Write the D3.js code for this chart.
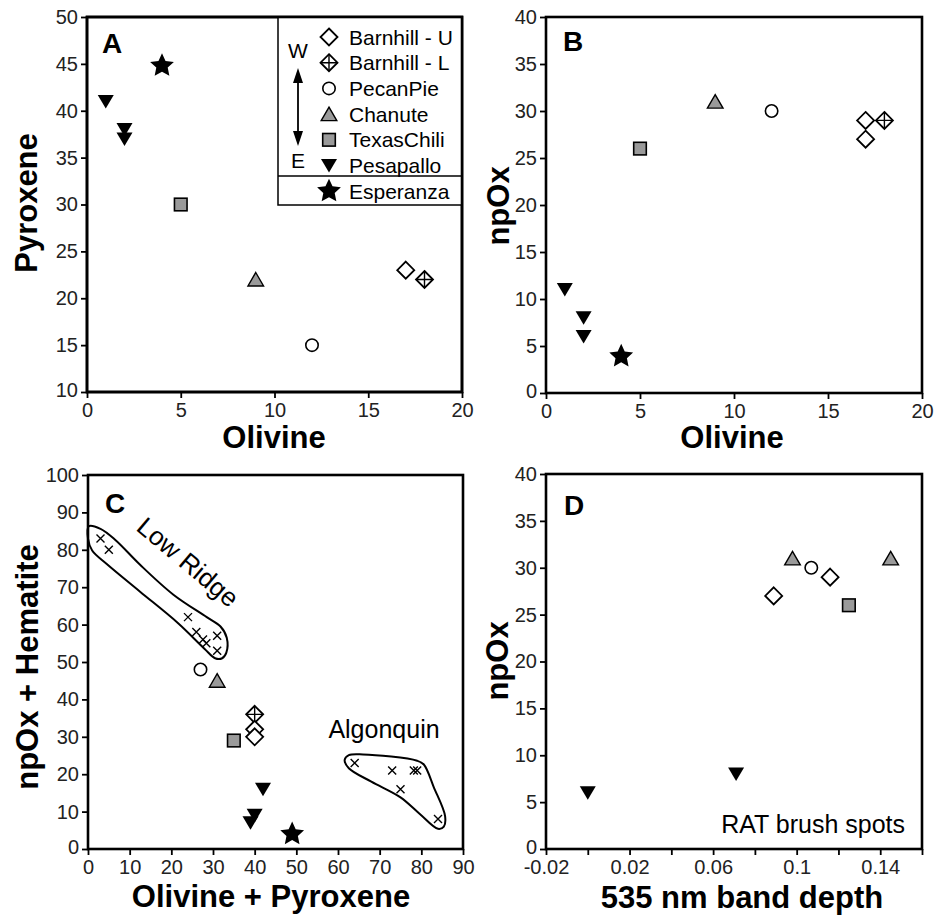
<!DOCTYPE html>
<html>
<head>
<meta charset="utf-8">
<script src="https://cdn.jsdelivr.net/npm/d3@7"></script>
<style>
  body { margin: 0; background: #fff; }
  svg text { font-family: "Liberation Sans", Arial, sans-serif; }
</style>
</head>
<body>
<script>
// site names (legend order)
var sites = ["Barnhill - U", "Barnhill - L", "PecanPie", "Chanute", "TexasChili", "Pesapallo", "Esperanza"];

// panel A : olivine vs pyroxene
var aSite = ["Barnhill - U", "Barnhill - L", "PecanPie", "Chanute", "TexasChili", "Pesapallo", "Pesapallo", "Pesapallo", "Esperanza"];
var aOlivine = [17, 18, 12, 9, 5, 1, 2, 2, 4];
var aPyroxene = [23, 22, 15, 22, 30, 41, 38, 37, 44.8];

// panel B : olivine vs npOx
var bSite = ["Barnhill - U", "Barnhill - U", "Barnhill - L", "PecanPie", "Chanute", "TexasChili", "Pesapallo", "Pesapallo", "Pesapallo", "Esperanza"];
var bOlivine = [17, 17, 18, 12, 9, 5, 1, 2, 2, 4];
var bNpOx = [29, 27, 29, 30, 31, 26, 11, 8, 6, 3.9];

// panel C : olivine+pyroxene vs npOx+hematite
var cSite = ["PecanPie", "Chanute", "Barnhill - L", "Barnhill - U", "Barnhill - U", "TexasChili", "Pesapallo", "Pesapallo", "Pesapallo", "Esperanza"];
var cOlPx = [27, 31, 40, 40, 40, 35, 42, 40, 39, 49];
var cNpHem = [48, 45, 36, 32, 30, 29, 16, 9, 7, 4];
// other rocks (x marks)
var lowRidgeX = [3, 5, 24, 26, 27.6, 28.4, 31, 31];
var lowRidgeY = [83, 80, 62, 58, 56, 55, 57, 53];
var algonquinX = [64, 73, 75, 78.2, 79, 84];
var algonquinY = [23, 21, 16, 21, 21, 8];
// hand-drawn group outlines (data units)
var lowRidgeHullX = [0.2, 3, 6.5, 12.5, 20.5, 28.5, 31.8, 33.3, 33.2, 32.2, 30.5, 28, 21.5, 12.5, 4.5, 1, 0];
var lowRidgeHullY = [86.3, 85.6, 82.7, 76, 68, 62, 59.5, 56.5, 52.5, 51, 51, 53.5, 60.5, 68.8, 76.2, 79.8, 83];
var algonquinHullX = [61.6, 62.6, 66, 79, 80.6, 83, 85.7, 85.4, 84, 79.5, 75, 68, 62.6];
var algonquinHullY = [23.8, 25.1, 25.3, 23.6, 22.6, 16.5, 8.8, 6, 5.4, 9.5, 13.8, 18, 21.6];

// panel D : 535 nm band depth vs npOx (RAT brush spots)
var dSite = ["Pesapallo", "Pesapallo", "Barnhill - U", "Chanute", "PecanPie", "Barnhill - U", "TexasChili", "Chanute"];
var dBand = [0, 0.071, 0.089, 0.098, 0.107, 0.116, 0.125, 0.145];
var dNpOx = [6, 8, 27, 31, 30, 29, 26, 31];

var aXTicks = [0, 5, 10, 15, 20], aYTicks = [10, 15, 20, 25, 30, 35, 40, 45, 50];
var bYTicks = [0, 5, 10, 15, 20, 25, 30, 35, 40];
var cXTicks = [0, 10, 20, 30, 40, 50, 60, 70, 80, 90], cYTicks = [0, 10, 20, 30, 40, 50, 60, 70, 80, 90, 100];
var dXTicks = [-0.02, 0, 0.02, 0.04, 0.06, 0.08, 0.1, 0.12, 0.14, 0.16];
var dXLabels = [-0.02, 0.02, 0.06, 0.1, 0.14];

var W = 934, H = 917;
var gray = "#9a9a9a";

var svg = d3.select("body").append("svg")
    .attr("width", W).attr("height", H);
svg.append("rect").attr("width", W).attr("height", H).attr("fill", "#fff");

function starPath(R, r) {
    var p = [];
    for (var i = 0; i < 10; i++) {
        var a = -Math.PI / 2 + i * Math.PI / 5;
        var rad = i % 2 ? r : R;
        p.push([rad * Math.cos(a), rad * Math.sin(a)]);
    }
    return "M" + p.join("L") + "Z";
}

// draw one marker of a site at pixel position
function marker(g, site, x, y) {
    var m = g.append("g").attr("transform", "translate(" + x + "," + y + ")");
    if (site == "Barnhill - U" || site == "Barnhill - L") {
        m.append("path").attr("d", "M0,-8.5L8.5,0L0,8.5L-8.5,0Z")
            .attr("fill", "#fff").attr("stroke", "#000").attr("stroke-width", 1.8);
        if (site == "Barnhill - L")
            m.append("path").attr("d", "M0,-8.5V8.5M-8.5,0H8.5")
                .attr("stroke", "#000").attr("stroke-width", 1.4);
    } else if (site == "PecanPie") {
        m.append("circle").attr("r", 6.2)
            .attr("fill", "#fff").attr("stroke", "#000").attr("stroke-width", 1.6);
    } else if (site == "Chanute") {
        m.append("path").attr("d", "M0,-7L7.8,6.5H-7.8Z")
            .attr("fill", gray).attr("stroke", "#000").attr("stroke-width", 1.4);
    } else if (site == "TexasChili") {
        m.append("rect").attr("x", -6.3).attr("y", -6.3).attr("width", 12.6).attr("height", 12.6)
            .attr("fill", gray).attr("stroke", "#000").attr("stroke-width", 1.6);
    } else if (site == "Pesapallo") {
        m.append("path").attr("d", "M-8,-6.5H8L0,7Z").attr("fill", "#000");
    } else if (site == "Esperanza") {
        m.append("path").attr("d", starPath(12.5, 6)).attr("fill", "#000");
    }
}

function cross(g, x, y) {
    g.append("path")
        .attr("d", "M" + (x - 4) + "," + (y - 4) + "L" + (x + 4) + "," + (y + 4) +
            "M" + (x - 4) + "," + (y + 4) + "L" + (x + 4) + "," + (y - 4))
        .attr("stroke", "#000").attr("stroke-width", 1.4);
}

// plot frame, axes and titles
function makePanel(p) {
    var x = d3.scaleLinear().domain(p.xDomain).range([p.left, p.right]);
    var y = d3.scaleLinear().domain(p.yDomain).range([p.bottom, p.top]);
    var g = svg.append("g");

    var xa = g.append("g").attr("transform", "translate(0," + p.bottom + ")")
        .call(d3.axisBottom(x).tickValues(p.xTicks).tickSize(6).tickPadding(5)
            .tickFormat(p.xFormat || d3.format("")));
    var ya = g.append("g").attr("transform", "translate(" + p.left + ",0)")
        .call(d3.axisLeft(y).tickValues(p.yTicks).tickSize(6).tickPadding(3)
            .tickFormat(d3.format("")));
    [xa, ya].forEach(function(a) {
        a.select(".domain").remove();
        a.selectAll(".tick line").attr("stroke", "#000").attr("stroke-width", 1.8);
        a.selectAll(".tick text").attr("fill", "#222").style("font-size", "20px");
    });
    // keep the lowest y label clear of the x labels
    ya.selectAll(".tick text").filter(function(d) { return d == p.yDomain[0]; }).attr("dy", "0.2em");

    g.append("rect").attr("x", p.left).attr("y", p.top)
        .attr("width", p.right - p.left).attr("height", p.bottom - p.top)
        .attr("fill", "none").attr("stroke", "#000").attr("stroke-width", 2.6);

    g.append("text").attr("x", p.xTitle[0]).attr("y", p.xTitle[1])
        .attr("text-anchor", "middle").style("font-size", "31px").style("font-weight", "bold")
        .text(p.xLabel);
    g.append("text")
        .attr("transform", "translate(" + p.yTitle[0] + "," + p.yTitle[1] + ") rotate(-90)")
        .attr("text-anchor", "middle").style("font-size", "31px").style("font-weight", "bold")
        .text(p.yLabel);
    g.append("text").attr("x", p.letter[0]).attr("y", p.letter[1])
        .style("font-size", "28px").style("font-weight", "bold").text(p.name);
    return { g: g, x: x, y: y };
}

// ---- A
var A = makePanel({ name: "A", left: 87, right: 462, top: 17, bottom: 392,
    xDomain: [0, 20], yDomain: [10, 50], xTicks: aXTicks, yTicks: aYTicks,
    xLabel: "Olivine", yLabel: "Pyroxene", xTitle: [274, 448], yTitle: [37, 203], letter: [102, 53] });
aSite.forEach(function(s, i) { marker(A.g, s, A.x(aOlivine[i]), A.y(aPyroxene[i])); });

// legend
var lg = A.g.append("g");
lg.append("rect").attr("x", 278).attr("y", 17).attr("width", 184).attr("height", 188)
    .attr("fill", "#fff").attr("stroke", "#000").attr("stroke-width", 1.5);
lg.append("line").attr("x1", 278).attr("x2", 462).attr("y1", 176).attr("y2", 176)
    .attr("stroke", "#000").attr("stroke-width", 1.5);
sites.forEach(function(s, i) {
    var cy = 37 + i * 25.7;
    marker(lg, s, 329, cy);
    lg.append("text").attr("x", 349).attr("y", cy + 7.5).style("font-size", "21px").text(s);
});
A.g.append("rect").attr("x", 87).attr("y", 17).attr("width", 375).attr("height", 375)
    .attr("fill", "none").attr("stroke", "#000").attr("stroke-width", 2.6);
lg.append("text").attr("x", 298).attr("y", 58).attr("text-anchor", "middle").style("font-size", "21px").text("W");
lg.append("text").attr("x", 298).attr("y", 168).attr("text-anchor", "middle").style("font-size", "21px").text("E");
lg.append("line").attr("x1", 298).attr("x2", 298).attr("y1", 78).attr("y2", 136)
    .attr("stroke", "#000").attr("stroke-width", 1.8);
lg.append("path").attr("d", "M298,68L303,83H293Z M298,146L303,131H293Z").attr("fill", "#000");

// ---- B
var B = makePanel({ name: "B", left: 546, right: 922, top: 17, bottom: 393,
    xDomain: [0, 20], yDomain: [0, 40], xTicks: aXTicks, yTicks: bYTicks,
    xLabel: "Olivine", yLabel: "npOx", xTitle: [732, 448], yTitle: [509, 206], letter: [563, 51] });
bSite.forEach(function(s, i) { marker(B.g, s, B.x(bOlivine[i]), B.y(bNpOx[i])); });

// ---- C
var C = makePanel({ name: "C", left: 88, right: 463, top: 475, bottom: 849,
    xDomain: [0, 90], yDomain: [0, 100], xTicks: cXTicks, yTicks: cYTicks,
    xLabel: "Olivine + Pyroxene", yLabel: "npOx + Hematite", xTitle: [271, 907], yTitle: [38, 667], letter: [105, 513] });
var hull = d3.line().curve(d3.curveCatmullRomClosed.alpha(0.5));
C.g.append("path")
    .attr("d", hull(lowRidgeHullX.map(function(v, i) { return [C.x(v), C.y(lowRidgeHullY[i])]; })))
    .attr("fill", "none").attr("stroke", "#000").attr("stroke-width", 2);
C.g.append("path")
    .attr("d", hull(algonquinHullX.map(function(v, i) { return [C.x(v), C.y(algonquinHullY[i])]; })))
    .attr("fill", "none").attr("stroke", "#000").attr("stroke-width", 2);
lowRidgeX.forEach(function(v, i) { cross(C.g, C.x(v), C.y(lowRidgeY[i])); });
algonquinX.forEach(function(v, i) { cross(C.g, C.x(v), C.y(algonquinY[i])); });
cSite.forEach(function(s, i) { marker(C.g, s, C.x(cOlPx[i]), C.y(cNpHem[i])); });
C.g.append("text").attr("transform", "translate(188,562) rotate(40)")
    .attr("text-anchor", "middle").attr("dy", "0.35em").style("font-size", "26px").text("Low Ridge");
C.g.append("text").attr("x", 384).attr("y", 738)
    .attr("text-anchor", "middle").style("font-size", "25px").text("Algonquin");

// ---- D
var D = makePanel({ name: "D", left: 546, right: 922, top: 474, bottom: 849,
    xDomain: [-0.02, 0.16], yDomain: [0, 40], xTicks: dXTicks, yTicks: bYTicks,
    xFormat: function(v) { return dXLabels.some(function(l) { return Math.abs(l - v) < 1e-9; }) ? String(+v.toFixed(2)) : ""; },
    xLabel: "535 nm band depth", yLabel: "npOx", xTitle: [742, 908], yTitle: [508, 661], letter: [564, 515] });
dSite.forEach(function(s, i) { marker(D.g, s, D.x(dBand[i]), D.y(dNpOx[i])); });
D.g.append("text").attr("x", 905).attr("y", 833)
    .attr("text-anchor", "end").style("font-size", "25px").text("RAT brush spots");
</script>
</body>
</html>
